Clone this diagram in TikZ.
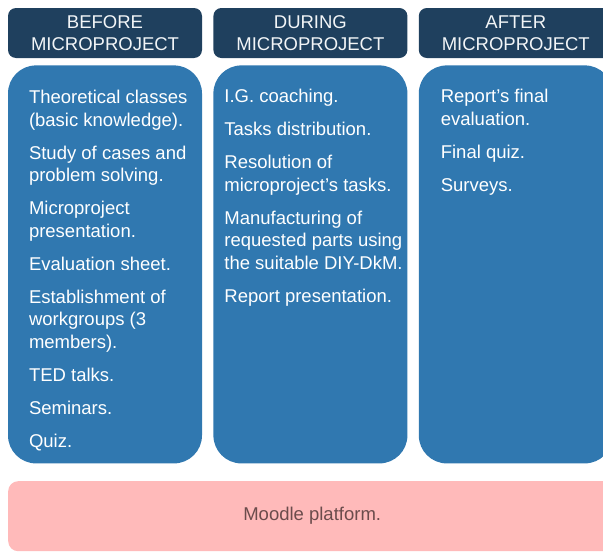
\documentclass[tikz,border=0pt]{standalone}
\usepackage{fontspec}
\setmainfont{Liberation Sans}
\usetikzlibrary{positioning}
\definecolor{headclr}{rgb}{0.12, 0.25, 0.37}
\definecolor{bodyclr}{rgb}{0.19, 0.47, 0.69}
\definecolor{moodleclr}{rgb}{1.0, 0.73, 0.73}
\definecolor{moodletxt}{rgb}{0.42, 0.30, 0.30}
\definecolor{txtclr}{rgb}{0.95, 0.96, 0.97}
\tikzset{ %
  ,every node/.style={font=\fontsize{18.5}{22.5}\selectfont}
  ,phase/.style={fill=headclr, text=txtclr, rounded corners=8pt, minimum width=194pt, minimum height=50pt, inner sep=0, align=center, node distance=11pt}
  ,column/.style={fill=bodyclr, rounded corners=28pt, minimum width=194pt, minimum height=398pt, inner sep=0, node distance=7pt}
  ,items/.style={text=white, align=left, inner sep=0, anchor=north west}
  ,platform/.style={fill=moodleclr, text=moodletxt, rounded corners=10pt, minimum width=608pt, minimum height=70pt, inner sep=0}
}

\begin{document}
\begin{tikzpicture}[x=1pt, y=-1pt]
      \useasboundingbox (0,0) rectangle (603,554);
      \clip (0,0) rectangle (603,554);
      % phase headers
      \draw
      node[phase] (before) at (105,33) {BEFORE\\MICROPROJECT}
      node[phase, right=of before] (during) {DURING\\MICROPROJECT}
      node[phase, right=of during] (after) {AFTER\\MICROPROJECT};
      % columns below the headers
      \draw
      node[column, below=of before] (beforebody) {}
      node[column, below=of during] (duringbody) {}
      node[column, below=of after] (afterbody) {};
      % activity lists
      \node[items] (beforelist) at ([xshift=21pt, yshift=-25pt]beforebody.north west)
        {Theoretical classes\\(basic knowledge).\\[10.5pt]
         Study of cases and\\problem solving.\\[10.5pt]
         Microproject\\presentation.\\[10.5pt]
         Evaluation sheet.\\[10.5pt]
         Establishment of\\workgroups (3\\members).\\[10.5pt]
         TED talks.\\[10.5pt]
         Seminars.\\[10.5pt]
         Quiz.};
      \node[items] (duringlist) at ([xshift=11pt, yshift=-24pt]duringbody.north west)
        {I.G. coaching.\\[10.5pt]
         Tasks distribution.\\[10.5pt]
         Resolution of\\microproject’s tasks.\\[10.5pt]
         Manufacturing of\\requested parts using\\the suitable DIY-DkM.\\[10.5pt]
         Report presentation.};
      \node[items] (afterlist) at ([xshift=22pt, yshift=-24pt]afterbody.north west)
        {Report’s final\\evaluation.\\[10.5pt]
         Final quiz.\\[10.5pt]
         Surveys.};
      % platform under everything
      \node[platform, anchor=north west] (moodle) at (8,481) {Moodle platform.};
    \end{tikzpicture}
\end{document}
